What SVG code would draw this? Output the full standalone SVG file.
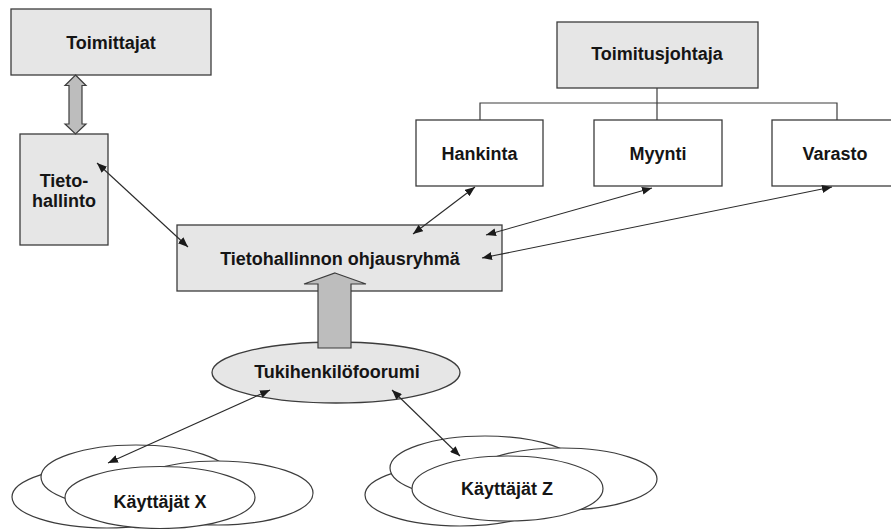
<svg xmlns="http://www.w3.org/2000/svg" width="891" height="529" viewBox="0 0 891 529">
  <style>
    .box { fill: #e6e6e6; stroke: #3c3c3c; stroke-width: 1.3; }
    .wbox { fill: #ffffff; stroke: #3c3c3c; stroke-width: 1.3; }
    .oval { fill: #ffffff; stroke: #3c3c3c; stroke-width: 1.2; }
    .goval { fill: #e6e6e6; stroke: #3c3c3c; stroke-width: 1.3; }
    .lbl { font-family: "Liberation Sans", Arial, sans-serif; font-weight: bold; font-size: 18px; fill: #151515; text-anchor: middle; }
    .org { fill: none; stroke: #3c3c3c; stroke-width: 1.2; }
    .link { fill: none; stroke: #2a2a2a; stroke-width: 1.1; marker-start: url(#head); marker-end: url(#head); }
    .block { fill: #bdbdbd; stroke: #3c3c3c; stroke-width: 1.2; }
  </style>
  <defs>
    <marker id="head" markerUnits="userSpaceOnUse" markerWidth="10" markerHeight="8" refX="10" refY="4" orient="auto-start-reverse">
      <path d="M0,0 L10,4 L0,8 z" fill="#1a1a1a"/>
    </marker>
  </defs>
  <rect width="891" height="529" fill="#ffffff"/>

  <g id="nodes">
    <g id="toimittajat">
      <rect class="box" x="11" y="9" width="200" height="66"/>
      <text class="lbl" x="111" y="49">Toimittajat</text>
    </g>
    <g id="tietohallinto">
      <rect class="box" x="20" y="134" width="88" height="111"/>
      <text class="lbl" x="64" y="187">Tieto-</text>
      <text class="lbl" x="64" y="207">hallinto</text>
    </g>
    <g id="toimitusjohtaja">
      <rect class="box" x="557" y="22" width="201" height="66"/>
      <text class="lbl" x="657" y="60">Toimitusjohtaja</text>
    </g>
    <g id="hankinta">
      <rect class="wbox" x="416" y="120" width="127" height="66"/>
      <text class="lbl" x="479.5" y="160">Hankinta</text>
    </g>
    <g id="myynti">
      <rect class="wbox" x="594" y="120" width="128" height="66"/>
      <text class="lbl" x="658" y="160">Myynti</text>
    </g>
    <g id="varasto">
      <rect class="wbox" x="772" y="120" width="127" height="66"/>
      <text class="lbl" x="835" y="160">Varasto</text>
    </g>
    <g id="ohjausryhma">
      <rect class="box" x="177" y="225" width="325" height="66"/>
      <text class="lbl" x="340" y="265">Tietohallinnon ohjausryhmä</text>
    </g>
    <g id="tukihenkilofoorumi">
      <ellipse class="goval" cx="336" cy="372.5" rx="124" ry="30.5"/>
      <text class="lbl" x="337" y="378">Tukihenkilöfoorumi</text>
    </g>
    <g id="kayttajat-x">
      <ellipse class="oval" cx="107" cy="497" rx="95" ry="31"/>
      <ellipse class="oval" cx="136" cy="477" rx="95" ry="32"/>
      <ellipse class="oval" cx="218" cy="493" rx="95" ry="32"/>
      <ellipse class="oval" cx="160" cy="497.5" rx="95" ry="31"/>
      <text class="lbl" x="160" y="508">Käyttäjät X</text>
    </g>
    <g id="kayttajat-z">
      <ellipse class="oval" cx="460" cy="495" rx="95" ry="31"/>
      <ellipse class="oval" cx="485" cy="468" rx="95" ry="32"/>
      <ellipse class="oval" cx="562" cy="479" rx="95" ry="31"/>
      <ellipse class="oval" cx="507.5" cy="488.5" rx="95.5" ry="32.5"/>
      <text class="lbl" x="507" y="495">Käyttäjät Z</text>
    </g>
  </g>

  <g id="connectors">
    <!-- org chart lines -->
    <path class="org" d="M657,88 V120 M480,120 V103 H837 V120"/>
    <!-- block arrows -->
    <polygon class="block" points="75.5,75 86,85.5 82,85.5 82,124 86,124 75.5,134 65,124 69,124 69,85.5 65,85.5"/>
    <polygon class="block" points="335,273 366,284 351,284 351,348 318,348 318,284 304,284"/>
    <!-- two-way links -->
    <line class="link" x1="97" y1="163" x2="188" y2="247"/>
    <line class="link" x1="475" y1="187" x2="413" y2="234"/>
    <line class="link" x1="652" y1="188" x2="486" y2="235"/>
    <line class="link" x1="832" y1="187" x2="482" y2="258"/>
    <line class="link" x1="270" y1="390" x2="108" y2="463"/>
    <line class="link" x1="392" y1="390" x2="460" y2="456"/>
  </g>
</svg>
